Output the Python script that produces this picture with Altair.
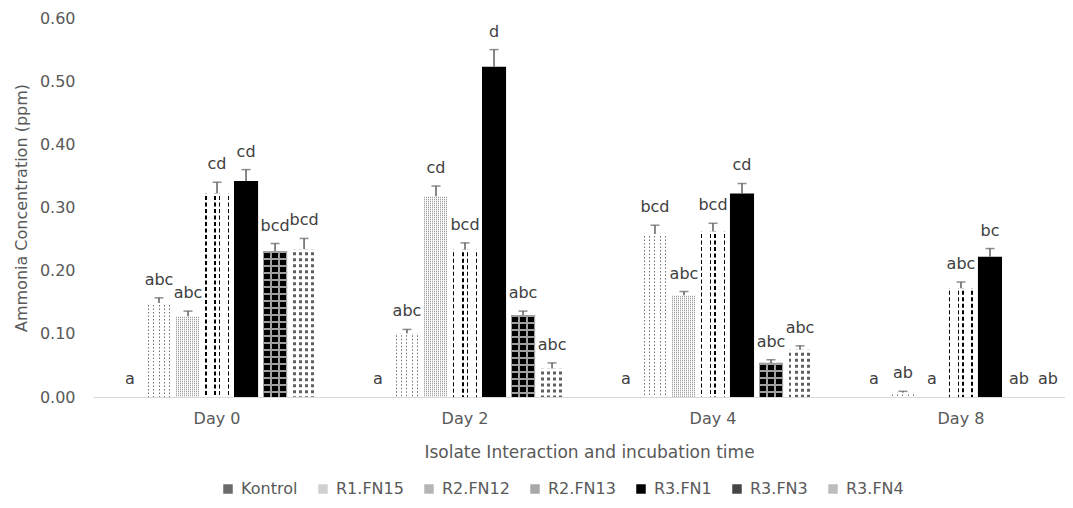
import altair as alt
import pandas as pd

days = ["Day 0", "Day 2", "Day 4", "Day 8"]
series = ["Kontrol", "R1.FN15", "R2.FN12", "R2.FN13", "R3.FN1", "R3.FN3", "R3.FN4"]

val_kontrol = [0.0, 0.0, 0.0, 0.0]
val_r1_fn15 = [0.149, 0.101, 0.258, 0.007]
val_r2_fn12 = [0.128, 0.318, 0.161, 0.0]
val_r2_fn13 = [0.322, 0.233, 0.262, 0.172]
val_r3_fn1 = [0.342, 0.523, 0.322, 0.222]
val_r3_fn3 = [0.231, 0.130, 0.054, 0.0]
val_r3_fn4 = [0.234, 0.045, 0.075, 0.0]

err_kontrol = [0.0, 0.0, 0.0, 0.0]
err_r1_fn15 = [0.008, 0.006, 0.014, 0.002]
err_r2_fn12 = [0.008, 0.016, 0.006, 0.0]
err_r2_fn13 = [0.018, 0.011, 0.013, 0.010]
err_r3_fn1 = [0.018, 0.027, 0.016, 0.013]
err_r3_fn3 = [0.012, 0.006, 0.005, 0.0]
err_r3_fn4 = [0.017, 0.009, 0.006, 0.0]

let_kontrol = ["a", "a", "a", "a"]
let_r1_fn15 = ["abc", "abc", "bcd", "ab"]
let_r2_fn12 = ["abc", "cd", "abc", "a"]
let_r2_fn13 = ["cd", "bcd", "bcd", "abc"]
let_r3_fn1 = ["cd", "d", "cd", "bc"]
let_r3_fn3 = ["bcd", "abc", "abc", "ab"]
let_r3_fn4 = ["bcd", "abc", "abc", "ab"]

values = [val_kontrol, val_r1_fn15, val_r2_fn12, val_r2_fn13, val_r3_fn1, val_r3_fn3, val_r3_fn4]
errors = [err_kontrol, err_r1_fn15, err_r2_fn12, err_r2_fn13, err_r3_fn1, err_r3_fn3, err_r3_fn4]
letters = [let_kontrol, let_r1_fn15, let_r2_fn12, let_r2_fn13, let_r3_fn1, let_r3_fn3, let_r3_fn4]

rows = []
for s, vals, errs, lets in zip(series, values, errors, letters):
    for d, v, e, l in zip(days, vals, errs, lets):
        rows.append({"day": d, "series": s, "value": v, "err": e, "top": v + e, "letter": l})
df = pd.DataFrame(rows)

GRAY = "#595959"
FONT = "DejaVu Sans"

X = alt.X("day:N", scale=alt.Scale(domain=days, range=[0, 992], paddingInner=0.181, paddingOuter=0.0907),
          axis=alt.Axis(title="Isolate Interaction and incubation time", labelAngle=0, ticks=False, tickSize=0,
                        labelPadding=13, labelFontSize=16, labelColor=GRAY, titleFontSize=17,
                        titleColor=GRAY, titleFontWeight="normal", titlePadding=18,
                        domainColor="#d9d9d9", domainWidth=1, grid=False))
XO = alt.XOffset("series:N", scale=alt.Scale(domain=series, paddingInner=0.17, paddingOuter=0.085))
yaxis = alt.Axis(title="Ammonia Concentration (ppm)", values=[0, 0.1, 0.2, 0.3, 0.4, 0.5, 0.6], format=".2f",
                 ticks=False, tickSize=0, domain=False, grid=False, labelPadding=18, labelFontSize=16,
                 labelColor=GRAY, titleFontSize=16, titleColor=GRAY, titleFontWeight="normal", titlePadding=10)
yscale = alt.Scale(domain=[0, 0.6], nice=False)


def Y(field):
    return alt.Y(field, scale=yscale, axis=yaxis)


base = alt.Chart(df)

legend_colors = ["#6a6a6a", "#d0d0d0", "#b5b5b5", "#a8a8a8", "#000000", "#454545", "#bdbdbd"]
legend_layer = base.mark_square(opacity=0).encode(
    x=X, xOffset=XO, y=Y("value:Q"),
    color=alt.Color("series:N", scale=alt.Scale(domain=series, range=legend_colors),
                    legend=alt.Legend(title=None, orient="none", legendX=127, legendY=463, direction="horizontal",
                                      labelFontSize=16, labelColor=GRAY, symbolSize=90, symbolStrokeWidth=0,
                                      symbolType="square", symbolOpacity=1, columnPadding=17, labelOffset=5,
                                      padding=0)))

bar_bg = ["#ffffff", "#ffffff", "#ffffff", "#ffffff", "#000000", "#a0a0a0", "#ffffff"]
bars = base.transform_filter("datum.value > 0").mark_bar().encode(
    x=X, xOffset=XO, y=Y("value:Q"),
    fill=alt.Fill("series:N", scale=alt.Scale(domain=series, range=bar_bg), legend=None))

BW = 24.0


def stripes(bands, color, bg):
    stops = [alt.GradientStop(offset=0, color=bg)]
    for a, b in bands:
        stops += [alt.GradientStop(offset=a / BW, color=bg), alt.GradientStop(offset=a / BW, color=color),
                  alt.GradientStop(offset=b / BW, color=color), alt.GradientStop(offset=b / BW, color=bg)]
    stops.append(alt.GradientStop(offset=1, color=bg))
    return alt.LinearGradient(gradient="linear", stops=stops, x1=0, x2=1, y1=0, y2=0)


# fill pattern styles: series -> (stripe bands, stripe colour, background, overlay colour, overlay dash)
pattern_styles = {
    "R1.FN15": ([(1, 2), (6, 7), (11.5, 12.5), (17, 18), (22, 23)], "#707070", "#ffffff", "#ffffff", [2, 1.5]),
    "R2.FN12": ([(k, k + 1) for k in range(0, 24, 2)], "#858585", "#ffffff", "#ffffff", [1, 1]),
    "R2.FN13": ([(0, 1.5), (9, 10.5), (13.5, 15), (22.5, 24)], "#000000", "#ffffff", "#ffffff", [2.5, 4]),
    "R3.FN3": ([(1, 7), (9, 15), (17, 23)], "#000000", "#a0a0a0", "#a0a0a0", [2, 5]),
    "R3.FN4": ([(1, 3.5), (7, 9.5), (13, 15.5), (19, 21.5)], "#606060", "#ffffff", "#ffffff", [3, 3]),
}

pattern_layers = []
for s, (bands, col, bg, ocol, dash) in pattern_styles.items():
    flt = f"datum.series == '{s}' && datum.value > 0"
    pattern_layers.append(
        base.transform_filter(flt).mark_bar(fill=stripes(bands, col, bg))
        .encode(x=X, xOffset=XO, y=Y("value:Q")))
    pattern_layers.append(
        base.transform_filter(flt).mark_rule(stroke=ocol, strokeWidth=BW, strokeDash=dash)
        .encode(x=X, xOffset=XO, y=Y("value:Q"), y2=alt.datum(0)))

err_rule = base.transform_filter("datum.err > 0").mark_rule(color="#606060", strokeWidth=1.5).encode(
    x=X, xOffset=XO, y=Y("value:Q"), y2="top:Q")
err_cap = base.transform_filter("datum.err > 0").mark_tick(color="#606060", thickness=1.5, size=9).encode(
    x=X, xOffset=XO, y=Y("top:Q"))
labels = base.mark_text(dy=-13, baseline="alphabetic", fontSize=16, color="#404040").encode(
    x=X, xOffset=XO, y=Y("top:Q"), text="letter:N")

chart = alt.layer(legend_layer, bars, *pattern_layers, err_rule, err_cap, labels).properties(
    width=972, height=379,
    autosize=alt.AutoSizeParams(type="none"),
    padding={"left": 85, "top": 10, "right": 0, "bottom": 103},
).configure(font=FONT).configure_view(stroke=None)

chart.save("out.html", embed_options={"renderer": "svg", "actions": False})
